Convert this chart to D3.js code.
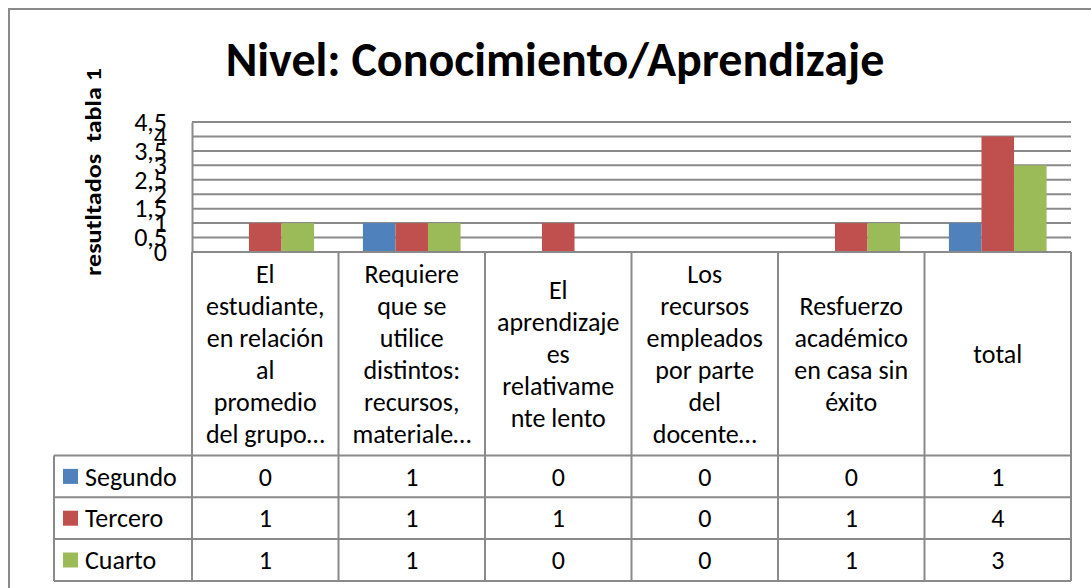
<!DOCTYPE html>
<html>
<head>
<meta charset="utf-8">
<script src="https://cdn.jsdelivr.net/npm/d3@7"></script>
<style>
  html, body { margin: 0; padding: 0; background: #fff; }
  svg { display: block; font-family: Carlito, Lato, sans-serif; }
</style>
</head>
<body>
<div id="chart"></div>
<script>
// chart data
const categories = ["c1", "c2", "c3", "c4", "c5", "c6"];
const categoryLines = [
  ["El", "estudiante,", "en relación", "al", "promedio", "del grupo…"],
  ["Requiere", "que se", "utilice", "distintos:", "recursos,", "materiale…"],
  ["El", "aprendizaje", "es", "relativame", "nte lento"],
  ["Los", "recursos", "empleados", "por parte", "del", "docente…"],
  ["Resfuerzo", "académico", "en casa sin", "éxito"],
  ["total"]
];
const seriesNames = ["Segundo", "Tercero", "Cuarto"];
const segundo = [0, 1, 0, 0, 0, 1];
const tercero = [1, 1, 1, 0, 1, 4];
const cuarto = [1, 1, 0, 0, 1, 3];
const seriesColors = ["#4f81bd", "#c0504d", "#9bbb59"];
const yTicks = [0, 0.5, 1, 1.5, 2, 2.5, 3, 3.5, 4, 4.5];
const title = "Nivel: Conocimiento/Aprendizaje";
const yTitle = "resutltados  tabla 1";

const seriesValues = [segundo, tercero, cuarto];

const config = {
  width: 1091,
  height: 588,
  plot: {left: 192, right: 1071, top: 122, bottom: 252},
  headerBottom: 455.5,
  rowHeight: 41.8,
  legendLeft: 54,
  grid: "#8a8a8a",
  fontSize: 26
};

const svg = d3.select("#chart").append("svg")
  .attr("width", config.width)
  .attr("height", config.height);

// outer frame
svg.append("rect")
  .attr("x", 9).attr("y", 9)
  .attr("width", 1110).attr("height", 620)
  .attr("fill", "none")
  .attr("stroke", config.grid)
  .attr("stroke-width", 2);

const x = d3.scaleBand(categories, [config.plot.left, config.plot.right]);
const x1 = d3.scaleBand(seriesNames, [0, x.bandwidth()]).paddingInner(0).paddingOuter(0.75);
const y = d3.scaleLinear([0, 4.5], [config.plot.bottom, config.plot.top]);

// gridlines
svg.append("g")
  .selectAll("line")
  .data(yTicks)
  .join("line")
  .attr("x1", config.plot.left).attr("x2", config.plot.right)
  .attr("y1", d => y(d)).attr("y2", d => y(d))
  .attr("stroke", config.grid)
  .attr("stroke-width", 2);

// y axis
const yAxis = d3.axisLeft(y)
  .tickValues(yTicks)
  .tickSize(0)
  .tickPadding(25)
  .tickFormat(d => String(d).replace(".", ","));

svg.append("g")
  .attr("transform", `translate(${config.plot.left},0)`)
  .call(yAxis)
  .call(g => g.select(".domain").attr("stroke", config.grid).attr("stroke-width", 2))
  .call(g => g.selectAll("text")
    .attr("font-family", "Carlito, Lato, sans-serif")
    .attr("font-size", config.fontSize)
    .attr("fill", "#000"));

// bars
const barRows = [];
seriesNames.forEach((s, si) => {
  categories.forEach((c, ci) => barRows.push({s: s, c: c, v: seriesValues[si][ci], color: seriesColors[si]}));
});

svg.append("g")
  .selectAll("rect")
  .data(barRows.filter(d => d.v > 0))
  .join("rect")
  .attr("x", d => x(d.c) + x1(d.s))
  .attr("y", d => y(d.v))
  .attr("width", x1.bandwidth())
  .attr("height", d => y(0) - y(d.v))
  .attr("fill", d => d.color);

// data table
const table = svg.append("g").attr("stroke", config.grid).attr("stroke-width", 2);
const tableBottom = config.headerBottom + config.rowHeight * seriesNames.length;

table.append("line")
  .attr("x1", config.plot.left).attr("x2", config.plot.right)
  .attr("y1", config.plot.bottom).attr("y2", config.plot.bottom);

table.selectAll(".vline")
  .data(categories.map(c => x(c)).concat([config.plot.right]))
  .join("line")
  .attr("x1", d => d).attr("x2", d => d)
  .attr("y1", config.plot.bottom).attr("y2", tableBottom);

table.append("line")
  .attr("x1", config.legendLeft).attr("x2", config.legendLeft)
  .attr("y1", config.headerBottom).attr("y2", tableBottom);

table.selectAll(".hline")
  .data(d3.range(seriesNames.length + 1))
  .join("line")
  .attr("x1", config.legendLeft).attr("x2", config.plot.right)
  .attr("y1", i => config.headerBottom + i * config.rowHeight)
  .attr("y2", i => config.headerBottom + i * config.rowHeight);

// category header text
const lineH = 32;
const headerMid = (config.plot.bottom + config.headerBottom) / 2;
svg.append("g")
  .selectAll("text")
  .data(categories)
  .join("text")
  .attr("text-anchor", "middle")
  .attr("font-size", config.fontSize)
  .attr("fill", "#000")
  .each(function(c, i) {
    const lines = categoryLines[i];
    const y0 = headerMid - (lines.length - 1) * lineH / 2;
    d3.select(this).selectAll("tspan")
      .data(lines)
      .join("tspan")
      .attr("x", x(c) + x.bandwidth() / 2)
      .attr("y", (d, j) => y0 + j * lineH)
      .attr("dy", "0.35em")
      .text(d => d);
  });

// table rows
seriesNames.forEach((s, si) => {
  const rowMid = config.headerBottom + (si + 0.5) * config.rowHeight;
  svg.append("rect")
    .attr("x", 63).attr("y", rowMid - 7.5)
    .attr("width", 15).attr("height", 15)
    .attr("fill", seriesColors[si]);
  svg.append("text")
    .attr("x", 85).attr("y", rowMid)
    .attr("dy", "0.35em")
    .attr("font-size", config.fontSize)
    .text(s);
  svg.append("g")
    .selectAll("text")
    .data(categories)
    .join("text")
    .attr("x", c => x(c) + x.bandwidth() / 2)
    .attr("y", rowMid)
    .attr("dy", "0.35em")
    .attr("text-anchor", "middle")
    .attr("font-size", config.fontSize)
    .text((c, ci) => seriesValues[si][ci]);
});

// titles
svg.append("text")
  .attr("x", 555).attr("y", 76)
  .attr("text-anchor", "middle")
  .attr("font-size", 48)
  .attr("font-weight", "bold")
  .text(title);

// y title: stretched along its length like the original
svg.append("text")
  .attr("transform", "translate(101,172) rotate(-90)")
  .attr("text-anchor", "middle")
  .attr("font-size", 23)
  .attr("font-weight", "bold")
  .attr("textLength", 208)
  .attr("lengthAdjust", "spacingAndGlyphs")
  .style("white-space", "pre")
  .text(yTitle);
</script>
</body>
</html>
